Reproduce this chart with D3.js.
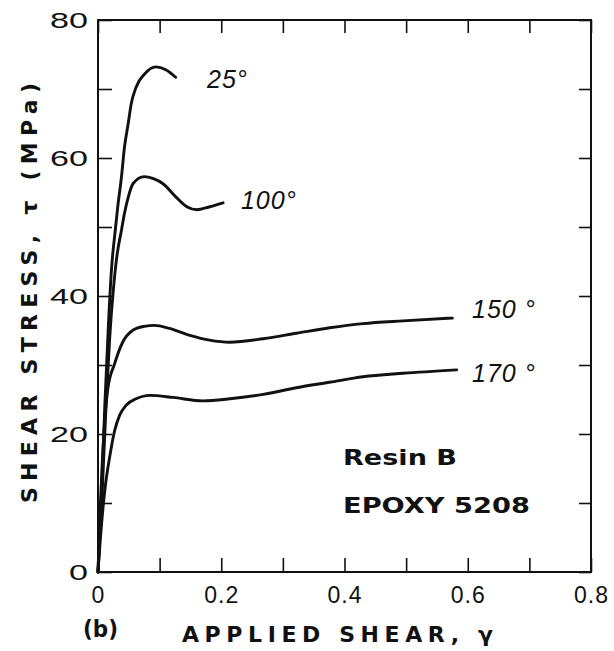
<!DOCTYPE html>
<meta charset="utf-8">
<script src="https://d3js.org/d3.v7.min.js"></script>
<style>
  body { margin: 0; background: #fff; }
  text { fill: #111; }
</style>
<div id="my_dataviz"></div>
<script>

// curves: [applied shear, shear stress (MPa)]
var curve25 = [
  [0, 0], [0.006, 12], [0.011, 24], [0.017, 36], [0.022, 44], [0.028, 49.5],
  [0.032, 52.9], [0.038, 57.2], [0.043, 61.6], [0.049, 65], [0.054, 67.9],
  [0.062, 70.3], [0.076, 72.2], [0.094, 73.2], [0.11, 72.8], [0.126, 71.7]
];
var curve100 = [
  [0, 0], [0.007, 12], [0.013, 24], [0.019, 34], [0.025, 41], [0.031, 46],
  [0.038, 49.5], [0.043, 52], [0.049, 54.3], [0.057, 56.3], [0.075, 57.3],
  [0.09, 57], [0.105, 56.3], [0.127, 54.3], [0.145, 52.9], [0.16, 52.5],
  [0.18, 52.9], [0.203, 53.5]
];
var curve150 = [
  [0, 0], [0.003, 8], [0.007, 16], [0.011, 22], [0.016, 26.6], [0.027, 30.2],
  [0.040, 33.3], [0.056, 35], [0.075, 35.6], [0.092, 35.75], [0.116, 35.3],
  [0.149, 34.3], [0.181, 33.6], [0.214, 33.3], [0.268, 33.8], [0.322, 34.6],
  [0.376, 35.4], [0.430, 36.0], [0.495, 36.4], [0.575, 36.8]
];
var curve170 = [
  [0, 0], [0.004, 5], [0.011, 11.8], [0.019, 16.7], [0.027, 20.5], [0.035, 22.7],
  [0.046, 24.2], [0.062, 25.1], [0.084, 25.6], [0.122, 25.3], [0.170, 24.8],
  [0.214, 25.1], [0.268, 25.75], [0.322, 26.7], [0.376, 27.5], [0.430, 28.3],
  [0.495, 28.8], [0.582, 29.3]
];

var curveNames = ["25°", "100°", "150 °", "170 °"];
// label anchor in data units (gamma, tau)
var labelGamma = [0.177, 0.232, 0.607, 0.607];
var labelTau = [70.1, 52.6, 36.8, 27.6];

var xTicks = [0, 0.1, 0.2, 0.3, 0.4, 0.5, 0.6, 0.7, 0.8];
var xLabels = [0, 0.2, 0.4, 0.6, 0.8];
var yTicks = [0, 10, 20, 30, 40, 50, 60, 70, 80];
var yLabels = [0, 20, 40, 60, 80];

// set the dimensions and margins of the graph
var margin = {top: 20, right: 23, bottom: 79, left: 98},
    width = 591 - margin.left,
    height = 572 - margin.top;

var svg = d3.select("#my_dataviz")
  .append("svg")
    .attr("width", 614)
    .attr("height", 651)
  .append("g")
    .attr("transform", "translate(" + margin.left + "," + margin.top + ")");

var x = d3.scaleLinear().domain([0, 0.8]).range([0, width]);
var y = d3.scaleLinear().domain([0, 80]).range([height, 0]);

function fmt(d) {
  if (xLabels.indexOf(d) < 0) return "";
  return d === 0 ? "0" : d3.format(".1f")(d);
}
function fmtY(d) {
  return yLabels.indexOf(d) < 0 ? "" : d;
}

// ticks point inside the frame on all four sides
svg.append("g")
  .attr("class", "xaxis")
  .attr("transform", "translate(0," + height + ")")
  .call(d3.axisBottom(x).tickValues(xTicks).tickSize(-14).tickPadding(15).tickFormat(fmt));
svg.append("g")
  .attr("class", "xaxis")
  .call(d3.axisTop(x).tickValues(xTicks).tickSize(-13).tickFormat(""));
svg.append("g")
  .attr("class", "yaxis")
  .call(d3.axisLeft(y).tickValues(yTicks).tickSize(-14).tickPadding(10).tickFormat(fmtY));
svg.append("g")
  .attr("class", "yaxis")
  .attr("transform", "translate(" + width + ",0)")
  .call(d3.axisRight(y).tickValues(yTicks).tickSize(-12).tickFormat(""));

svg.selectAll(".domain").remove();
svg.selectAll(".tick line").attr("stroke", "#111").attr("stroke-width", 1.6);
svg.selectAll(".tick text")
  .style("font-family", "'Liberation Sans', Arial, sans-serif")
  .style("font-size", "22px")
  .attr("fill", "#111");
svg.selectAll(".xaxis .tick text")
  .attr("dy", "0.71em")
  .style("font-size", "23px")
  .style("letter-spacing", "1px");
svg.selectAll(".yaxis .tick text")
  .filter(function() { return this.textContent.length > 0; })
  .attr("textLength", function() { return this.textContent.length * 19; })
  .attr("lengthAdjust", "spacingAndGlyphs");

// frame
svg.append("rect")
  .attr("x", 0).attr("y", 0)
  .attr("width", width).attr("height", height)
  .attr("fill", "none")
  .attr("stroke", "#111")
  .attr("stroke-width", 2);

var line = d3.line()
  .x(function(d) { return x(d[0]); })
  .y(function(d) { return y(d[1]); })
  .curve(d3.curveMonotoneX);

svg.selectAll(".curve")
  .data([curve25, curve100, curve150, curve170])
  .enter()
  .append("path")
    .attr("class", "curve")
    .attr("d", line)
    .attr("fill", "none")
    .attr("stroke", "#111")
    .attr("stroke-width", 2.9)
    .attr("stroke-linecap", "round");

svg.selectAll(".clabel")
  .data(curveNames)
  .enter()
  .append("text")
    .attr("class", "clabel")
    .attr("x", function(d, i) { return x(labelGamma[i]); })
    .attr("y", function(d, i) { return y(labelTau[i]); })
    .style("font-family", "'Liberation Sans', Arial, sans-serif")
    .style("font-style", "italic")
    .style("font-size", "25px")
    .style("letter-spacing", "1px")
    .text(function(d) { return d; });

// inset note
svg.append("text")
  .attr("x", 245).attr("y", 445)
  .attr("textLength", 114).attr("lengthAdjust", "spacingAndGlyphs")
  .style("font-family", "'DejaVu Sans', sans-serif")
  .style("font-weight", "bold")
  .style("font-size", "22px")
  .text("Resin B");
svg.append("text")
  .attr("x", 245).attr("y", 493)
  .attr("textLength", 187).attr("lengthAdjust", "spacingAndGlyphs")
  .style("font-family", "'DejaVu Sans', sans-serif")
  .style("font-weight", "bold")
  .style("font-size", "22px")
  .text("EPOXY 5208");

// axis titles
svg.append("text")
  .attr("x", 84).attr("y", 622)
  .attr("textLength", 311).attr("lengthAdjust", "spacing")
  .style("font-family", "'DejaVu Sans', sans-serif")
  .style("font-weight", "bold")
  .style("font-size", "22px")
  .text("APPLIED SHEAR, γ");
svg.append("text")
  .attr("x", -15).attr("y", 617)
  .attr("textLength", 35).attr("lengthAdjust", "spacingAndGlyphs")
  .style("font-family", "'DejaVu Sans', sans-serif")
  .style("font-weight", "bold")
  .style("font-size", "23px")
  .text("(b)");
svg.append("text")
  .attr("transform", "rotate(-90)")
  .attr("x", -483).attr("y", -61)
  .attr("textLength", 420).attr("lengthAdjust", "spacing")
  .style("font-family", "'DejaVu Sans', sans-serif")
  .style("font-weight", "bold")
  .style("font-size", "22px")
  .text("SHEAR STRESS, τ  (MPa)");

</script>
